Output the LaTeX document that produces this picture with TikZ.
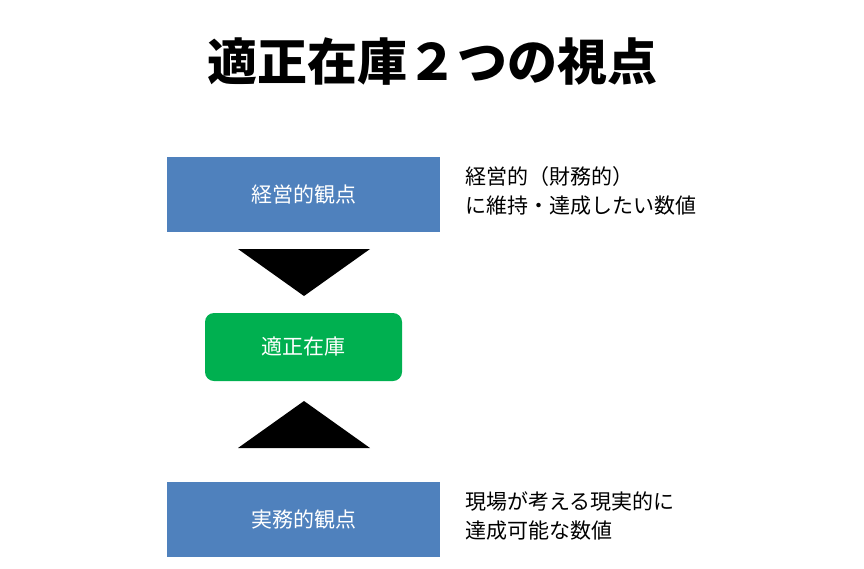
\documentclass[tikz,border=0pt]{standalone}
\usepackage{fontspec}
\setmainfont{Noto Sans CJK JP}
\begin{document}
\begin{tikzpicture}[x=1pt,y=-1pt,
  bbox/.style={fill=blue0,text=white,minimum width=273pt,minimum height=75pt,inner sep=0pt,font=\fontsize{21}{24}\selectfont},
  side/.style={anchor=north west,align=left,font=\fontsize{21}{29}\selectfont,inner sep=0pt}]
\definecolor{blue0}{HTML}{4F81BD}
\definecolor{green0}{HTML}{00B050}
\useasboundingbox (0,0) rectangle (864,568);
\node (title) at (432,62) {\fontsize{50}{56}\selectfont\bfseries 適正在庫２つの視点};
\node[bbox] (b1) at (303.5,194.5) {経営的観点};
\node[side] (s1) at (465,166) {経営的（財務的）\\に維持・達成したい数値};
\node[fill=green0,text=white,rounded corners=9pt,minimum width=197pt,minimum height=68pt,inner sep=0pt,font=\fontsize{21}{24}\selectfont] (g) at (303.5,347) {適正在庫};
\node[bbox] (b2) at (303.5,519.5) {実務的観点};
\node[side] (s2) at (465,492) {現場が考える現実的に\\達成可能な数値};
\coordinate (t1) at (304,249);
\coordinate (t2) at (304,448);
\fill (238,249) -- (370,249) -- (304,296) -- cycle;
\fill (238,448) -- (370,448) -- (304,401) -- cycle;
\end{tikzpicture}
\end{document}
